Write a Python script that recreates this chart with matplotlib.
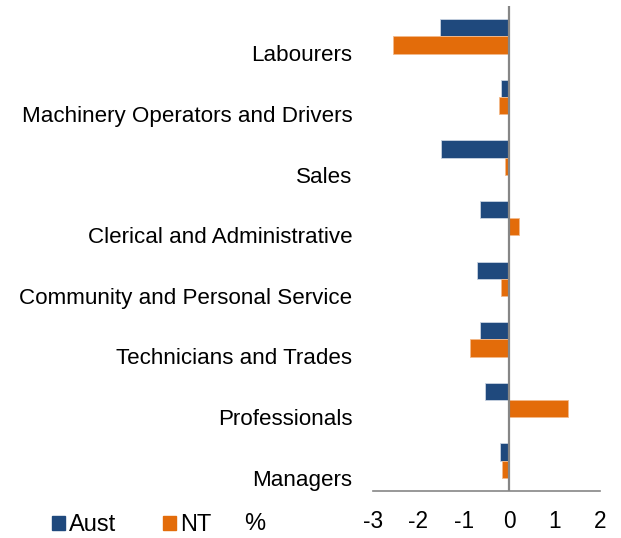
import numpy as np
import matplotlib.pyplot as plt
from matplotlib.patches import Patch

plt.rcParams["font.family"] = ["Liberation Sans", "DejaVu Sans"]

# categories listed bottom to top
categories = ["Managers", "Professionals", "Technicians and Trades",
              "Community and Personal Service", "Clerical and Administrative",
              "Sales", "Machinery Operators and Drivers", "Labourers"]
aust = [-0.20, -0.54, -0.65, -0.70, -0.64, -1.51, -0.18, -1.53]
nt = [-0.16, 1.29, -0.86, -0.19, 0.21, -0.10, -0.22, -2.55]
xticks = [-3, -2, -1, 0, 1, 2]

BLUE = "#1f497d"
ORANGE = "#e36c0a"
GREY = "#868686"

fig = plt.figure(figsize=(6.21, 5.38), dpi=100)
ax = fig.add_axes([0.6006, 0.0874, 0.3655, 0.9015])

y = np.arange(len(categories))
h = 0.285
ax.barh(y + h / 2, aust, height=h, color=BLUE, edgecolor="#c9d3e2", linewidth=0.6)
ax.barh(y - h / 2, nt, height=h, color=ORANGE, edgecolor="#f3b98a", linewidth=0.6)

ax.set_xlim(-3, 2)
ax.set_ylim(-0.5, len(categories) - 0.5)
ax.set_xticks(xticks)
ax.set_xticklabels([str(v) for v in xticks], fontsize=16.3)
# category labels sit a little below the bar pairs, as in the source chart
ax.set_yticks(y - 0.28)
ax.set_yticklabels(categories, fontsize=16.1)
ax.tick_params(axis="x", length=0, pad=14)
ax.tick_params(axis="y", length=0, pad=15)

for s in ["top", "right", "left"]:
    ax.spines[s].set_visible(False)
ax.spines["bottom"].set_color(GREY)
ax.spines["bottom"].set_linewidth(1.2)
ax.axvline(0, color=GREY, linewidth=1.6, zorder=3)

handles = [Patch(color=BLUE, label="Aust"), Patch(color=ORANGE, label="NT")]
fig.legend(handles=handles, loc="center left", bbox_to_anchor=(0.084, 0.024),
           ncol=2, frameon=False, fontsize=17, handlelength=0.53,
           handleheight=0.53, handletextpad=0.17, columnspacing=2.0,
           borderaxespad=0, borderpad=0)
fig.text(0.393, 0.026, "%", fontsize=17, va="center")

fig.savefig("out.png", dpi=100)
